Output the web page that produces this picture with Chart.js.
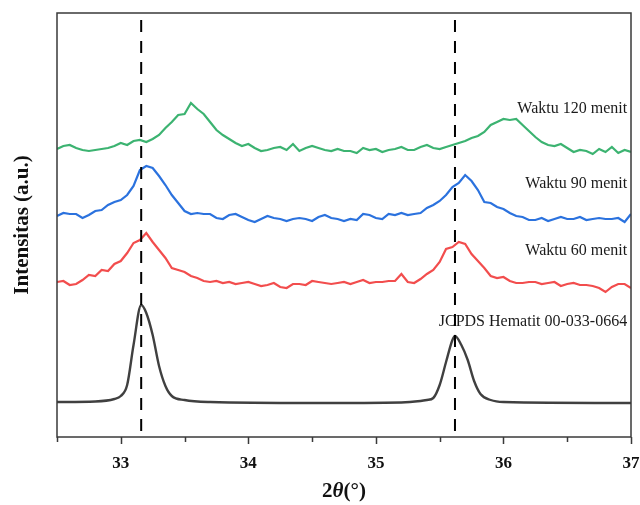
<!DOCTYPE html>
<html>
<head>
<meta charset="utf-8">
<script src="https://cdn.jsdelivr.net/npm/chart.js@4.4.0/dist/chart.umd.min.js"></script>
<style>
  html, body { margin: 0; padding: 0; background: #ffffff; }
  #c { display: block; }
</style>
</head>
<body>
<canvas id="c" width="640" height="505"></canvas>
<script>
// ---- DATA ----
const twoTheta = [
  32.50,32.55,32.60,32.65,32.70,32.75,32.80,32.85,32.90,32.95,
  33.00,33.05,33.10,33.15,33.20,33.25,33.30,33.35,33.40,33.45,
  33.50,33.55,33.60,33.65,33.70,33.75,33.80,33.85,33.90,33.95,
  34.00,34.05,34.10,34.15,34.20,34.25,34.30,34.35,34.40,34.45,
  34.50,34.55,34.60,34.65,34.70,34.75,34.80,34.85,34.90,34.95,
  35.00,35.05,35.10,35.15,35.20,35.25,35.30,35.35,35.40,35.45,
  35.50,35.55,35.60,35.65,35.70,35.75,35.80,35.85,35.90,35.95,
  36.00,36.05,36.10,36.15,36.20,36.25,36.30,36.35,36.40,36.45,
  36.50,36.55,36.60,36.65,36.70,36.75,36.80,36.85,36.90,36.95,
  37.00
];
const waktu120 = [
  288,291,292,289,287,286,287,288,289,291,
  294,292,296,297,295,298,302,309,315,322,
  323,334,328,323,315,307,302,298,294,291,
  293,289,286,287,289,290,287,293,286,289,
  291,289,287,286,288,286,286,284,289,287,
  288,285,287,288,290,287,287,290,292,289,
  288,290,292,294,296,299,301,305,312,315,
  318,317,318,312,306,300,295,292,291,293,
  289,285,287,286,283,288,285,290,284,287,
  285
];
const waktu90 = [
  221,224,223,223,219,222,226,227,232,235,
  237,242,251,267,271,269,261,252,242,234,
  226,223,224,223,223,219,218,222,223,220,
  217,215,218,221,219,218,216,218,219,218,
  216,220,222,219,218,216,218,217,223,222,
  219,218,223,222,224,222,223,224,229,232,
  236,242,250,254,262,256,247,235,234,230,
  228,224,221,220,217,217,219,216,218,220,
  218,218,220,217,218,219,218,218,219,215,
  223
];
const waktu60 = [
  155,156,152,153,157,162,161,167,166,173,
  176,184,194,197,204,195,187,179,169,167,
  165,161,159,156,155,156,154,155,153,154,
  155,153,151,152,154,150,149,153,153,152,
  156,155,154,153,154,155,153,155,157,154,
  155,155,156,156,163,155,154,158,163,167,
  175,188,190,195,193,183,176,169,161,159,
  160,156,154,154,155,155,153,154,155,151,
  153,154,152,152,151,149,145,150,153,153,
  149
];
const jcpdsTheta = [32.50,32.80,32.95,33.00,33.05,33.10,33.16,33.20,33.25,33.30,33.35,33.40,33.50,33.70,34.50,35.20,35.35,35.40,35.45,35.50,35.55,35.60,35.62,35.67,35.72,35.77,35.82,35.90,36.00,37.00];
const jcpdsHematit = [35,35.5,38,41,52,92,132,124,102,71,51,41,37,35,34,34.5,36,37,39,52,75,97,101,92,77,56,43,37,35,34];

const seriesNames = ['Waktu 120 menit','Waktu 90 menit','Waktu 60 menit','JCPDS Hematit 00-033-0664'];
const refPeaks = [33.16, 35.62];
const tickValues = [32.5,33,33.5,34,34.5,35,35.5,36,36.5,37];
const xTitle = ['2','θ','(°)'];
const yTitle = 'Intensitas (a.u.)';
// label anchor (data coordinates, right-aligned)
const labelX = 36.97;
const labelY = [328, 253, 186, 115];

// ---- BUILD ----
const pts = (xs, ys) => xs.map((x, i) => ({x: x, y: ys[i]}));
const colors = ['#3cb371', '#2b72de', '#f24d4d', '#404040'];

const overlay = {
  id: 'overlay',
  afterDraw(chart) {
    const ctx = chart.ctx, a = chart.chartArea;
    const xs = chart.scales.x, ys = chart.scales.y;
    ctx.save();
    // frame
    ctx.strokeStyle = '#3a3a3a';
    ctx.lineWidth = 1.5;
    ctx.strokeRect(a.left, a.top, a.right - a.left, a.bottom - a.top);
    // ticks
    ctx.beginPath();
    tickValues.forEach(v => {
      const px = Math.round(xs.getPixelForValue(v)) + 0.5;
      const len = Number.isInteger(v) ? 7 : 5;
      ctx.moveTo(px, a.bottom);
      ctx.lineTo(px, a.bottom + len);
    });
    ctx.stroke();
    // labels
    ctx.fillStyle = '#1a1a1a';
    ctx.font = '16px "Liberation Serif", "Times New Roman", serif';
    ctx.textAlign = 'right';
    ctx.textBaseline = 'middle';
    seriesNames.forEach((n, i) => {
      ctx.fillText(n, xs.getPixelForValue(labelX), ys.getPixelForValue(labelY[i]));
    });
    // dashed reference lines
    ctx.strokeStyle = '#000';
    ctx.lineWidth = 2;
    ctx.setLineDash([12, 9]);
    refPeaks.forEach(v => {
      const px = xs.getPixelForValue(v);
      ctx.beginPath();
      ctx.moveTo(px, a.top + 7);
      ctx.lineTo(px, a.bottom);
      ctx.stroke();
    });
    ctx.setLineDash([]);
    // x title with italic theta
    ctx.fillStyle = '#111';
    ctx.textBaseline = 'middle';
    ctx.textAlign = 'left';
    const fonts = ['bold 21px "Liberation Serif", serif', 'italic bold 21px "Liberation Serif", serif', 'bold 21px "Liberation Serif", serif'];
    let total = 0;
    const widths = xTitle.map((t, i) => { ctx.font = fonts[i]; const w = ctx.measureText(t).width; total += w; return w; });
    let cx = (a.left + a.right) / 2 - total / 2;
    xTitle.forEach((t, i) => { ctx.font = fonts[i]; ctx.fillText(t, cx, 492); cx += widths[i]; });
    // y title
    ctx.translate(23, (a.top + a.bottom) / 2);
    ctx.rotate(-Math.PI / 2);
    ctx.textAlign = 'center';
    ctx.font = 'bold 21px "Liberation Serif", serif';
    ctx.fillText(yTitle, 0, 0);
    ctx.restore();
  }
};

new Chart(document.getElementById('c'), {
  type: 'line',
  data: {
    datasets: [
      { label: seriesNames[0], data: pts(twoTheta, waktu120), borderColor: colors[0], borderWidth: 2.2, pointRadius: 0, tension: 0, fill: false },
      { label: seriesNames[1], data: pts(twoTheta, waktu90), borderColor: colors[1], borderWidth: 2.2, pointRadius: 0, tension: 0, fill: false },
      { label: seriesNames[2], data: pts(twoTheta, waktu60), borderColor: colors[2], borderWidth: 2.2, pointRadius: 0, tension: 0, fill: false },
      { label: seriesNames[3], data: pts(jcpdsTheta, jcpdsHematit), borderColor: colors[3], borderWidth: 2.4, pointRadius: 0, cubicInterpolationMode: 'monotone', fill: false }
    ]
  },
  options: {
    responsive: false,
    animation: false,
    devicePixelRatio: 1,
    layout: { padding: { top: 13, right: 9, left: 0, bottom: 0 } },
    plugins: { legend: { display: false }, tooltip: { enabled: false } },
    scales: {
      x: {
        type: 'linear', min: 32.5, max: 37,
        afterFit: s => { s.height = 68; s.paddingLeft = 0; s.paddingRight = 0; },
        grid: { display: false, drawTicks: false, tickLength: 0 },
        border: { display: false },
        ticks: {
          stepSize: 0.5, autoSkip: false, maxRotation: 0, padding: 16,
          color: '#111',
          font: { family: '"Liberation Serif", serif', size: 17, weight: 'bold' },
          callback: v => Number.isInteger(v) ? String(v) : ''
        }
      },
      y: {
        type: 'linear', min: 0, max: 424,
        afterFit: s => { s.width = 57; },
        grid: { display: false },
        border: { display: false },
        ticks: { display: false }
      }
    }
  },
  plugins: [overlay]
});
</script>
</body>
</html>
